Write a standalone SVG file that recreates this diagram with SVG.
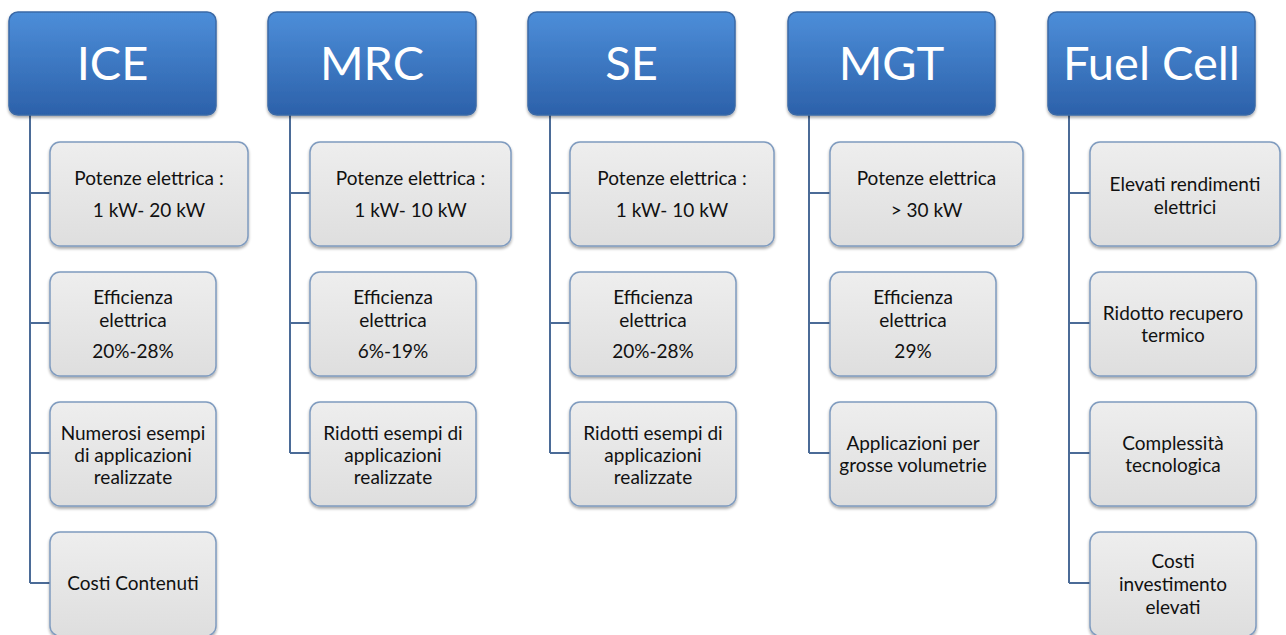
<svg xmlns="http://www.w3.org/2000/svg" width="1286" height="635" viewBox="0 0 1286 635">
<defs>
<linearGradient id="gHead" x1="0" y1="0" x2="0" y2="1">
<stop offset="0" stop-color="#4d8ed9"/>
<stop offset="1" stop-color="#2c61aa"/>
</linearGradient>
<linearGradient id="gBox" x1="0" y1="0" x2="0" y2="1">
<stop offset="0" stop-color="#eeeeee"/>
<stop offset="1" stop-color="#dedede"/>
</linearGradient>
<filter id="sh" x="-10%" y="-10%" width="120%" height="130%">
<feGaussianBlur in="SourceAlpha" stdDeviation="1.5"/>
<feOffset dx="0" dy="2" result="b"/>
<feComponentTransfer><feFuncA type="linear" slope="0.35"/></feComponentTransfer>
<feMerge><feMergeNode/><feMergeNode in="SourceGraphic"/></feMerge>
</filter>
</defs>
<style>
.head{fill:url(#gHead);stroke:#3a69a6;stroke-width:1.5;filter:url(#sh)}
.box{fill:url(#gBox);stroke:#7f9bbf;stroke-width:1.5;filter:url(#sh)}
.ht{font-family:Lato,"Liberation Sans",sans-serif;font-size:47px;fill:#ffffff;text-anchor:middle}
.bt{font-family:Lato,"Liberation Sans",sans-serif;font-size:19px;fill:#111111;text-anchor:middle}
.con{fill:none;stroke:#4b6b97;stroke-width:2}
</style>
<rect width="1286" height="635" fill="#ffffff"/>
<g id="connectors">
<path class="con" d="M30 115 V583 M30 193 H50 M30 323 H50 M30 453 H50 M30 583 H50"/>
<path class="con" d="M290 115 V453 M290 193 H310 M290 323 H310 M290 453 H310"/>
<path class="con" d="M550 115 V453 M550 193 H570 M550 323 H570 M550 453 H570"/>
<path class="con" d="M809 115 V453 M809 193 H830 M809 323 H830 M809 453 H830"/>
<path class="con" d="M1069 115 V583 M1069 193 H1090 M1069 323 H1090 M1069 453 H1090 M1069 583 H1090"/>
</g>
<g id="ice">
<rect class="head" x="9" y="12" width="207" height="103" rx="9"/>
<text class="ht" x="112.5" y="80">ICE</text>
</g>
<g id="ice-1"><rect class="box" x="50" y="142" width="198" height="104" rx="10"/>
<text class="bt" x="149" y="185">Potenze elettrica :</text><text class="bt" x="149" y="217">1 kW- 20 kW</text></g>
<g id="ice-2"><rect class="box" x="50" y="272" width="166" height="104" rx="10"/>
<text class="bt" x="133" y="304">Efficienza</text><text class="bt" x="133" y="327">elettrica</text><text class="bt" x="133" y="358">20%-28%</text></g>
<g id="ice-3"><rect class="box" x="50" y="402" width="166" height="104" rx="10"/>
<text class="bt" x="133" y="440">Numerosi esempi</text><text class="bt" x="133" y="462">di applicazioni</text><text class="bt" x="133" y="484">realizzate</text></g>
<g id="ice-4"><rect class="box" x="50" y="532" width="166" height="104" rx="10"/>
<text class="bt" x="133" y="590">Costi Contenuti</text></g>

<g id="mrc">
<rect class="head" x="268" y="12" width="208" height="103" rx="9"/>
<text class="ht" x="372" y="80">MRC</text>
</g>
<g id="mrc-1"><rect class="box" x="310" y="142" width="201" height="104" rx="10"/>
<text class="bt" x="410.5" y="185">Potenze elettrica :</text><text class="bt" x="410.5" y="217">1 kW- 10 kW</text></g>
<g id="mrc-2"><rect class="box" x="310" y="272" width="166" height="104" rx="10"/>
<text class="bt" x="393" y="304">Efficienza</text><text class="bt" x="393" y="327">elettrica</text><text class="bt" x="393" y="358">6%-19%</text></g>
<g id="mrc-3"><rect class="box" x="310" y="402" width="166" height="104" rx="10"/>
<text class="bt" x="393" y="440">Ridotti esempi di</text><text class="bt" x="393" y="462">applicazioni</text><text class="bt" x="393" y="484">realizzate</text></g>

<g id="se">
<rect class="head" x="528" y="12" width="207" height="103" rx="9"/>
<text class="ht" x="631.5" y="80">SE</text>
</g>
<g id="se-1"><rect class="box" x="570" y="142" width="204" height="104" rx="10"/>
<text class="bt" x="672" y="185">Potenze elettrica :</text><text class="bt" x="672" y="217">1 kW- 10 kW</text></g>
<g id="se-2"><rect class="box" x="570" y="272" width="166" height="104" rx="10"/>
<text class="bt" x="653" y="304">Efficienza</text><text class="bt" x="653" y="327">elettrica</text><text class="bt" x="653" y="358">20%-28%</text></g>
<g id="se-3"><rect class="box" x="570" y="402" width="166" height="104" rx="10"/>
<text class="bt" x="653" y="440">Ridotti esempi di</text><text class="bt" x="653" y="462">applicazioni</text><text class="bt" x="653" y="484">realizzate</text></g>

<g id="mgt">
<rect class="head" x="788" y="12" width="207" height="103" rx="9"/>
<text class="ht" x="891.5" y="80">MGT</text>
</g>
<g id="mgt-1"><rect class="box" x="830" y="142" width="193" height="104" rx="10"/>
<text class="bt" x="926.5" y="185">Potenze elettrica</text><text class="bt" x="926.5" y="217">&gt; 30 kW</text></g>
<g id="mgt-2"><rect class="box" x="830" y="272" width="166" height="104" rx="10"/>
<text class="bt" x="913" y="304">Efficienza</text><text class="bt" x="913" y="327">elettrica</text><text class="bt" x="913" y="358">29%</text></g>
<g id="mgt-3"><rect class="box" x="830" y="402" width="166" height="104" rx="10"/>
<text class="bt" x="913" y="450">Applicazioni per</text><text class="bt" x="913" y="472">grosse volumetrie</text></g>

<g id="fuelcell">
<rect class="head" x="1048" y="12" width="207" height="103" rx="9"/>
<text class="ht" x="1151.5" y="80">Fuel Cell</text>
</g>
<g id="fc-1"><rect class="box" x="1090" y="142" width="190" height="104" rx="10"/>
<text class="bt" x="1185" y="191">Elevati rendimenti</text><text class="bt" x="1185" y="214">elettrici</text></g>
<g id="fc-2"><rect class="box" x="1090" y="272" width="166" height="104" rx="10"/>
<text class="bt" x="1173" y="320">Ridotto recupero</text><text class="bt" x="1173" y="342">termico</text></g>
<g id="fc-3"><rect class="box" x="1090" y="402" width="166" height="104" rx="10"/>
<text class="bt" x="1173" y="450">Complessità</text><text class="bt" x="1173" y="472">tecnologica</text></g>
<g id="fc-4"><rect class="box" x="1090" y="532" width="166" height="104" rx="10"/>
<text class="bt" x="1173" y="568">Costi</text><text class="bt" x="1173" y="591">investimento</text><text class="bt" x="1173" y="614">elevati</text></g>
</svg>
